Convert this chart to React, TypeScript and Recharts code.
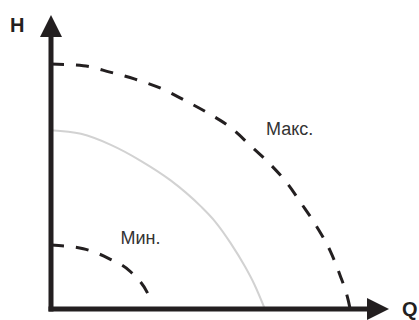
import { LineChart, Line, XAxis, YAxis, ReferenceLine, ReferenceDot } from 'recharts';

// Q-H pump curves, arbitrary units (Q: 0..113, H: 0..120)
const qMax = [0, 10.8, 19.7, 28.1, 36.7, 44.5, 52.3, 59.8, 66.5, 73.2, 78.9, 83.8, 88.9, 93.3, 96.6, 99.4, 100];
const hMax = [100, 99.3, 96.7, 93.8, 90.1, 85.3, 80.1, 74.3, 66.9, 59.2, 51.4, 42.9, 33.5, 23.8, 13.9, 3.4, 0];

const qMid = [0, 10, 20, 30, 40, 50, 55, 60, 65, 68, 71.5];
const hMid = [73, 71.5, 67, 60.5, 52.5, 42, 35.5, 27, 17, 10, 0];

const qMin = [0, 10.8, 19.2, 26.6, 32.2, 33.4];
const hMin = [26.1, 24.6, 20.7, 15.2, 6.7, 3.6];

const curveLabels = [
  { name: 'Макс.', q: 71.9, h: 71 },
  { name: 'Мин.', q: 23.2, h: 26.4 },
];

const toSeries = (qs: number[], hs: number[]) => qs.map((q, i) => ({ q, h: hs[i] }));

const maxData = toSeries(qMax, hMax);
const midData = toSeries(qMid, hMid);
const minData = toSeries(qMin, hMin);

const INK = '#231f20';
const FONT = '"Liberation Sans", Arial, Helvetica, sans-serif';

const YAxisArrow = (props: any) => {
  const x = props.x1;
  const top = Math.min(props.y1, props.y2);
  const bottom = Math.max(props.y1, props.y2);
  return (
    <g>
      <line x1={x} y1={bottom + 2.5} x2={x} y2={top + 16} stroke={INK} strokeWidth={5} />
      <polygon points={`${x - 11},${top + 22} ${x},${top} ${x + 11},${top + 22}`} fill={INK} />
      <text x={x - 41} y={top + 17} fontFamily={FONT} fontWeight="bold" fontSize={20} fill={INK}>
        H
      </text>
    </g>
  );
};

const XAxisArrow = (props: any) => {
  const y = props.y1;
  const left = Math.min(props.x1, props.x2);
  const right = Math.max(props.x1, props.x2);
  return (
    <g>
      <line x1={left - 2.5} y1={y} x2={right - 16} y2={y} stroke={INK} strokeWidth={5} />
      <polygon points={`${right - 22},${y - 11} ${right},${y} ${right - 22},${y + 11}`} fill={INK} />
      <text x={right + 13} y={y + 7} fontFamily={FONT} fontWeight="bold" fontSize={20} fill={INK}>
        Q
      </text>
    </g>
  );
};

const CurveText = (text: string) => (props: any) => {
  const { viewBox } = props;
  return (
    <text x={viewBox.x} y={viewBox.y} fontFamily={FONT} fontSize={18} fill="#333333">
      {text}
    </text>
  );
};

export default function App() {
  return (
    <div style={{ position: 'absolute', left: 0, top: 0, width: 419, height: 320, background: '#fff' }}>
      <LineChart width={419} height={320} margin={{ top: 15, right: 30, bottom: 11, left: 51 }}>
        <XAxis type="number" dataKey="q" domain={[0, 113]} hide />
        <YAxis type="number" dataKey="h" domain={[0, 120]} hide />
        <Line
          data={midData}
          dataKey="h"
          type="monotone"
          stroke="#d2d2d2"
          strokeWidth={2}
          dot={false}
          isAnimationActive={false}
        />
        <Line
          data={maxData}
          dataKey="h"
          type="monotone"
          stroke={INK}
          strokeWidth={3}
          strokeDasharray="13 12"
          dot={false}
          isAnimationActive={false}
        />
        <Line
          data={minData}
          dataKey="h"
          type="monotone"
          stroke={INK}
          strokeWidth={3}
          strokeDasharray="13 12"
          dot={false}
          isAnimationActive={false}
        />
        <ReferenceLine x={0} shape={YAxisArrow} />
        <ReferenceLine y={0} shape={XAxisArrow} />
        {curveLabels.map((c) => (
          <ReferenceDot
            key={c.name}
            x={c.q}
            y={c.h}
            r={0}
            fill="none"
            stroke="none"
            label={{ content: CurveText(c.name) }}
          />
        ))}
      </LineChart>
    </div>
  );
}
